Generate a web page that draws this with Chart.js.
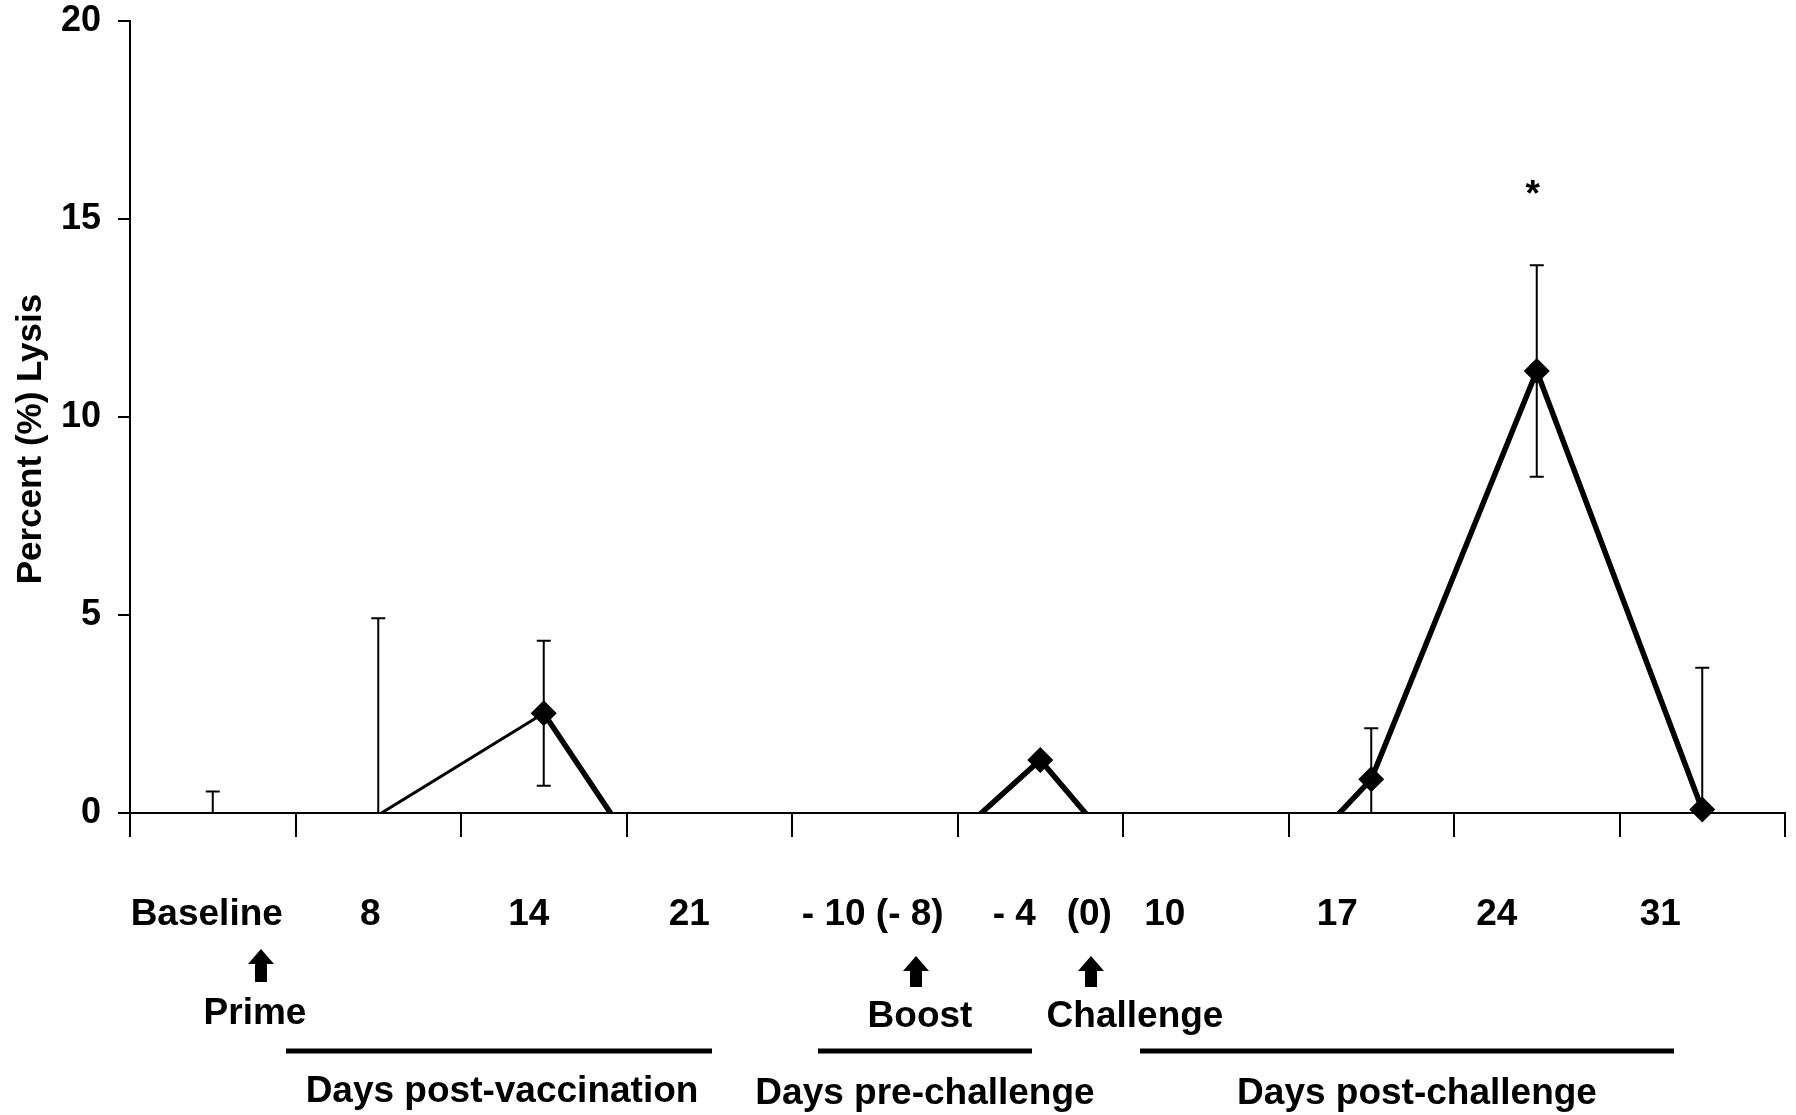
<!DOCTYPE html>
<html>
<head>
<meta charset="utf-8">
<script src="https://cdn.jsdelivr.net/npm/chart.js@4.4.1/dist/chart.umd.min.js"></script>
<style>
  body { margin: 0; background: #fff; }
  #wrap { width: 1796px; height: 1115px; position: relative; }
</style>
</head>
<body>
<div id="wrap"><canvas id="lysis"></canvas></div>
<script>
// categorias del eje x (los textos entre paréntesis son marcas de tiempo)
const categorias = ["Baseline", "8", "14", "21", "- 10 (- 8)", "- 4   (0)", "10", "17", "24", "31"];
// % lisis, media por punto (valores negativos quedan recortados en 0)
const lisis = [-1.0, -0.05, 2.52, -3.73, -2.43, 1.34, -3.58, 0.85, 11.16, 0.09];
// error estandar
const errores = [1.54, 4.97, 1.83, 0.5, 0.5, 0.1, 0.5, 1.29, 2.67, 3.58];
const ticksY = [0, 5, 10, 15, 20];
// desplazamiento de cada etiqueta respecto al centro de su categoria
const corrimiento = [-6, -8, -15, -20, -2, 12, -41, -34, -40, -42];

const fuente = '"Liberation Sans", Arial, Helvetica, sans-serif';

const barrasError = {
    id: "barrasError",
    afterDatasetsDraw(chart) {
        const ctx = chart.ctx, xs = chart.scales.x, ys = chart.scales.y, area = chart.chartArea;
        ctx.save();
        ctx.strokeStyle = "#000";
        ctx.lineWidth = 2;
        lisis.forEach((v, i) => {
            const x = xs.getPixelForValue(i);
            let top = ys.getPixelForValue(v + errores[i]);
            let bot = ys.getPixelForValue(v - errores[i]);
            if (top > area.bottom) return;
            const capTop = top >= area.top, capBot = bot <= area.bottom;
            top = Math.max(top, area.top);
            bot = Math.min(bot, area.bottom);
            ctx.beginPath();
            ctx.moveTo(x, top); ctx.lineTo(x, bot);
            if (capTop) { ctx.moveTo(x - 7, top); ctx.lineTo(x + 7, top); }
            if (capBot) { ctx.moveTo(x - 7, bot); ctx.lineTo(x + 7, bot); }
            ctx.stroke();
        });
        ctx.restore();
    }
};

function flecha(ctx, x, yTop, yBot) {
    ctx.beginPath();
    ctx.moveTo(x, yTop);
    ctx.lineTo(x + 13, yTop + 15);
    ctx.lineTo(x + 6, yTop + 15);
    ctx.lineTo(x + 6, yBot);
    ctx.lineTo(x - 6, yBot);
    ctx.lineTo(x - 6, yTop + 15);
    ctx.lineTo(x - 13, yTop + 15);
    ctx.closePath();
    ctx.fill();
}

const anotaciones = {
    id: "anotaciones",
    afterDraw(chart) {
        const ctx = chart.ctx, xs = chart.scales.x;
        ctx.save();
        ctx.fillStyle = "#000";
        ctx.strokeStyle = "#000";
        ctx.font = "bold 37px " + fuente;
        ctx.textAlign = "center";
        ctx.textBaseline = "alphabetic";

        categorias.forEach((c, i) => {
            ctx.fillText(c, xs.getPixelForValue(i) + corrimiento[i], 925);
        });

        // asterisco sobre el dia 24
        ctx.fillText("*", xs.getPixelForValue(8) - 4, 206);

        flecha(ctx, 261, 949, 982);
        flecha(ctx, 916, 956, 987);
        flecha(ctx, 1091, 956, 987);

        ctx.fillText("Prime", 255, 1024);
        ctx.fillText("Boost", 920, 1027);
        ctx.fillText("Challenge", 1135, 1027);

        ctx.lineWidth = 5;
        ctx.beginPath();
        ctx.moveTo(286, 1051); ctx.lineTo(712, 1051);
        ctx.moveTo(818, 1051); ctx.lineTo(1032, 1051);
        ctx.moveTo(1140, 1051); ctx.lineTo(1674, 1051);
        ctx.stroke();

        ctx.fillText("Days post-vaccination", 502, 1102);
        ctx.fillText("Days pre-challenge", 925, 1104);
        ctx.fillText("Days post-challenge", 1417, 1104);

        // titulo del eje y
        ctx.translate(41, 439);
        ctx.rotate(-Math.PI / 2);
        ctx.font = "bold 35px " + fuente;
        ctx.fillText("Percent (%) Lysis", 0, 0);
        ctx.restore();
    }
};

let miCanvas = document.getElementById("lysis").getContext("2d");

new Chart(miCanvas, {
    type: "line",
    data: {
        labels: categorias,
        datasets: [{
            data: lisis,
            borderColor: "#000",
            borderWidth: 5.5,
            pointRadius: 0,
            clip: 0,
            segment: {
                borderWidth: ctx => ctx.p0DataIndex === 1 ? 3 : 5.5
            }
        }, {
            data: lisis,
            showLine: false,
            pointStyle: "rectRot",
            pointRadius: ctx => lisis[ctx.dataIndex] >= 0 ? 13 : 0,
            pointBackgroundColor: "#000",
            pointBorderWidth: 0,
            clip: false
        }]
    },
    options: {
        responsive: true,
        maintainAspectRatio: false,
        animation: false,
        layout: { autoPadding: false, padding: { left: 0, top: 21, right: 11, bottom: 0 } },
        plugins: { legend: { display: false }, tooltip: { enabled: false } },
        scales: {
            x: {
                offset: true,
                grid: { offset: true, drawOnChartArea: false, color: "#000", tickLength: 24, lineWidth: 2 },
                border: { color: "#000", width: 2 },
                ticks: { display: false },
                afterFit: s => { s.height = 302; }
            },
            y: {
                min: 0,
                max: 20,
                afterBuildTicks: s => { s.ticks = ticksY.map(v => ({ value: v })); },
                grid: { drawOnChartArea: false, color: "#000", tickLength: 12, lineWidth: 2 },
                border: { color: "#000", width: 2 },
                ticks: { color: "#000", padding: 17, font: { family: fuente, size: 36, weight: "bold" } },
                afterFit: s => { s.width = 130; s.paddingTop = 0; s.paddingBottom = 0; }
            }
        }
    },
    plugins: [barrasError, anotaciones]
});
</script>
</body>
</html>
